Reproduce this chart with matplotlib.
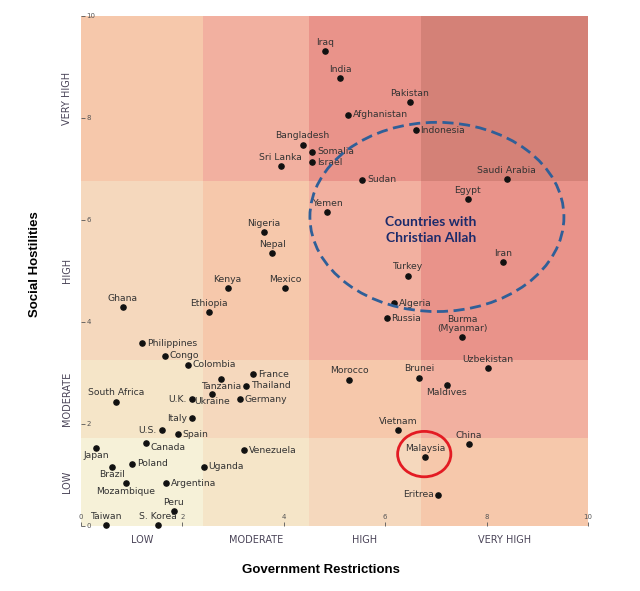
import matplotlib.pyplot as plt
from matplotlib.patches import Rectangle, Ellipse

# country data: government restrictions (x) vs social hostilities (y)
countries = ['Iraq', 'India', 'Pakistan', 'Afghanistan', 'Indonesia', 'Bangladesh',
             'Somalia', 'Israel', 'Sri Lanka', 'Sudan', 'Saudi Arabia', 'Egypt',
             'Yemen', 'Iran', 'Turkey', 'Algeria', 'Russia', 'Burma\n(Myanmar)',
             'Uzbekistan', 'Morocco', 'Brunei', 'Maldives', 'Vietnam', 'China',
             'Malaysia', 'Eritrea', 'Nigeria', 'Nepal', 'Kenya', 'Mexico', 'Ghana',
             'Ethiopia', 'Philippines', 'Congo', 'Colombia', 'France', 'Tanzania',
             'Thailand', 'South Africa', 'U.K.', 'Ukraine', 'Germany', 'Italy',
             'U.S.', 'Spain', 'Canada', 'Japan', 'Venezuela', 'Brazil', 'Poland',
             'Uganda', 'Mozambique', 'Argentina', 'Peru', 'Taiwan', 'S. Korea']
gri = [4.81, 5.11, 6.49, 5.27, 6.60, 4.37, 4.56, 4.56, 3.94, 5.55, 8.40, 7.63,
       4.85, 8.32, 6.44, 6.17, 6.03, 7.52, 8.03, 5.29, 6.67, 7.21, 6.25, 7.65,
       6.79, 7.05, 3.61, 3.77, 2.89, 4.03, 0.82, 2.52, 1.20, 1.65, 2.11, 3.40,
       2.76, 3.26, 0.70, 2.18, 2.58, 3.13, 2.18, 1.59, 1.91, 1.28, 0.30, 3.21,
       0.61, 1.01, 2.42, 0.89, 1.68, 1.83, 0.49, 1.52]
shi = [9.32, 8.78, 8.32, 8.06, 7.76, 7.48, 7.34, 7.13, 7.05, 6.79, 6.81, 6.41,
       6.16, 5.18, 4.91, 4.37, 4.07, 3.71, 3.10, 2.87, 2.91, 2.77, 1.88, 1.60,
       1.35, 0.61, 5.77, 5.35, 4.67, 4.67, 4.29, 4.20, 3.58, 3.34, 3.16, 2.98,
       2.89, 2.75, 2.44, 2.49, 2.59, 2.49, 2.11, 1.88, 1.80, 1.62, 1.53, 1.49,
       1.16, 1.22, 1.16, 0.84, 0.84, 0.30, 0.02, 0.02]

# category bands
x_edges = [0, 2.4, 4.5, 6.7, 10]
y_edges = [0, 1.73, 3.25, 6.76, 10]
x_cats = ['LOW', 'MODERATE', 'HIGH', 'VERY HIGH']
y_cats = ['LOW', 'MODERATE', 'HIGH', 'VERY HIGH']
level_colors = ['#f6f1d8', '#f5e5c8', '#f5d8bd', '#f6c8ab', '#f2b0a0', '#e9938a', '#d48177']

# where each label sits relative to its dot
right = ['Afghanistan', 'Indonesia', 'Somalia', 'Israel', 'Sudan', 'Algeria', 'Russia',
         'Philippines', 'Congo', 'Colombia', 'France', 'Thailand', 'Germany', 'Spain',
         'Venezuela', 'Poland', 'Uganda', 'Argentina']
left = ['Eritrea', 'U.K.', 'Italy', 'U.S.']
below = ['Maldives', 'Tanzania', 'Ukraine', 'Japan', 'Brazil', 'Mozambique']

label_font = ['Liberation Sans Narrow', 'DejaVu Sans']

fig = plt.figure(figsize=(6.4, 5.91), dpi=100)
ax = fig.add_axes([81 / 640, 65 / 591, 507 / 640, 510 / 591])

for i in range(4):
    for j in range(4):
        ax.add_patch(Rectangle((x_edges[i], y_edges[j]), x_edges[i + 1] - x_edges[i],
                               y_edges[j + 1] - y_edges[j], color=level_colors[i + j],
                               lw=0, zorder=0))

ax.scatter(gri, shi, s=14, color='#111111', zorder=3, clip_on=False)

for name, x, y in zip(countries, gri, shi):
    if name in right:
        off, ha, va = (3.5, 0), 'left', 'center'
    elif name in left:
        off, ha, va = (-3.5, 0), 'right', 'center'
    elif name in below:
        off, ha, va = (0, -2.5), 'center', 'top'
    elif name == 'Canada':
        off, ha, va = (3.5, -3), 'left', 'center'
    else:
        off, ha, va = (0, 3), 'center', 'bottom'
    ax.annotate(name, (x, y), xytext=off, textcoords='offset points', ha=ha, va=va,
                fontsize=6.7, color='#333333', family=label_font, linespacing=1.0,
                zorder=4)

# highlight shapes
ax.add_patch(Ellipse((7.02, 6.06), 5.01, 3.71, fill=False, ec='#2f5f98', lw=2,
                     ls=(0, (4, 2)), zorder=5))
ax.add_patch(Ellipse((6.77, 1.41), 1.05, 0.89, fill=False, ec='#e31b23', lw=2, zorder=5))
ax.text(6.9, 5.8, 'Countries with\nChristian Allah', ha='center', va='center',
        fontsize=10, fontweight='bold', family='Lato', color='#1c2b6b',
        linespacing=1.35, zorder=6)

ax.set_xlim(0, 10)
ax.set_ylim(0, 10)
for s in ax.spines.values():
    s.set_visible(False)
ax.set_xticks([0, 2, 4, 6, 8, 10])
ax.set_yticks([0, 2, 4, 6, 8, 10])
ax.tick_params(axis='both', direction='in', length=3, width=0.6, color='#555555',
               labelsize=5, labelcolor='#555555')
ax.tick_params(axis='y', pad=-4)
ax.tick_params(axis='x', pad=-4)
for lab in ax.get_yticklabels():
    lab.set_horizontalalignment('left')
for lab in ax.get_xticklabels():
    lab.set_verticalalignment('bottom')

# category labels along the axes
for i, c in enumerate(x_cats):
    ax.text((x_edges[i] + x_edges[i + 1]) / 2, -0.028, c, transform=ax.get_xaxis_transform(),
            ha='center', va='center', fontsize=7, color='#4a4458', family=label_font)
for j, c in enumerate(y_cats):
    ax.text(-0.028, (y_edges[j] + y_edges[j + 1]) / 2, c, transform=ax.get_yaxis_transform(),
            ha='center', va='center', rotation=90, fontsize=7, color='#4a4458',
            family=label_font)

fig.text(35 / 640, 1 - 264 / 591, 'Social Hostilities', rotation=90, ha='center',
         va='center', fontsize=9.5, fontweight='bold', family='Liberation Sans')
fig.text(321 / 640, 1 - 570 / 591, 'Government Restrictions', ha='center', va='center',
         fontsize=9.5, fontweight='bold', family='Liberation Sans')

fig.savefig('out.png', dpi=100)
